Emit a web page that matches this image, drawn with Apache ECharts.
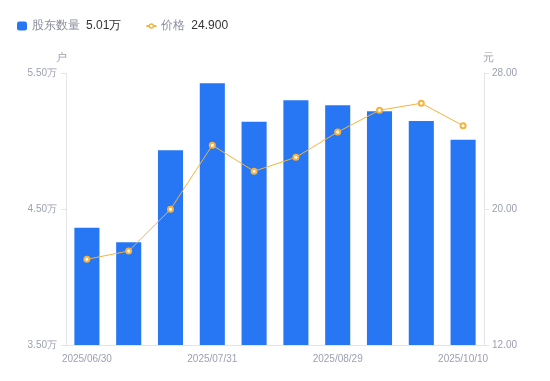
<!DOCTYPE html>
<html>
<head>
<meta charset="utf-8">
<script src="https://cdn.jsdelivr.net/npm/echarts@6/dist/echarts.min.js"></script>
<style>
  html, body { margin: 0; padding: 0; background: #fff; }
  #main { width: 550px; height: 381px; }
</style>
</head>
<body>
<div id="main"></div>
<script>
// 日期
const dates = ['2025/06/30', '2025/07/10', '2025/07/20', '2025/07/31', '2025/08/08',
               '2025/08/20', '2025/08/29', '2025/09/10', '2025/09/19', '2025/10/10'];
// 股东数量（户）
const holders = [43620, 42550, 49320, 54240, 51420, 52990, 52620, 52180, 51470, 50100];
// 价格（元）
const prices = [17.04, 17.53, 19.98, 23.75, 22.22, 23.04, 24.53, 25.81, 26.22, 24.90];

const gray = '#9b9fb0';
const lineGray = '#e3e5ea';

const fmtWan = v => (v / 10000).toFixed(2) + '万';

// legend icon for the line: short stubs + ring
const lineIcon = 'path://M0,2.5L3,2.5L3,4.5L0,4.5Z M8,2.5L11,2.5L11,4.5L8,4.5Z ' +
    'M8.5,3.5A3,3 0 1,1 2.5,3.5A3,3 0 1,1 8.5,3.5Z M7,3.5A1.5,1.5 0 1,0 4,3.5A1.5,1.5 0 1,0 7,3.5Z';

const chart = echarts.init(document.getElementById('main'));
chart.setOption({
    animation: false,
    color: ['#2777f5', '#f7b23b'],
    legend: {
        left: 12,
        top: 15,
        itemGap: 25,
        itemWidth: 10,
        itemHeight: 9,
        data: [
            { name: '股东数量', icon: 'roundRect' },
            { name: '价格', icon: lineIcon }
        ],
        formatter: function (name) {
            if (name === '股东数量') {
                return '{n|' + name + '}{v|' + fmtWan(holders[holders.length - 1]) + '}';
            }
            return '{n|' + name + '}{v|' + prices[prices.length - 1].toFixed(3) + '}';
        },
        textStyle: {
            rich: {
                n: { color: '#8a8d9c', fontSize: 12, padding: [0, 6, 0, 0] },
                v: { color: '#333', fontSize: 12 }
            }
        }
    },
    grid: { left: 66, right: 66, top: 73, bottom: 36 },
    xAxis: {
        type: 'category',
        data: dates,
        axisLine: { lineStyle: { color: lineGray } },
        axisTick: { show: false },
        axisLabel: { color: gray, fontSize: 10, interval: 2, margin: 9 }
    },
    yAxis: [
        {
            type: 'value',
            name: '户',
            nameTextStyle: { color: gray, fontSize: 11, padding: [0, 10, 0, 0] },
            nameGap: 10,
            min: 35000, max: 55000, interval: 10000,
            axisLine: { show: true, lineStyle: { color: lineGray } },
            axisTick: { show: true, length: 5, lineStyle: { color: lineGray } },
            splitLine: { show: false },
            axisLabel: { color: gray, fontSize: 10, margin: 9, formatter: fmtWan }
        },
        {
            type: 'value',
            name: '元',
            nameTextStyle: { color: gray, fontSize: 11, padding: [0, 0, 0, 8] },
            nameGap: 10,
            min: 12, max: 28, interval: 8,
            axisLine: { show: true, lineStyle: { color: lineGray } },
            axisTick: { show: true, length: 5, lineStyle: { color: lineGray } },
            splitLine: { show: false },
            axisLabel: { color: gray, fontSize: 10, margin: 8, formatter: v => v.toFixed(2) }
        }
    ],
    series: [
        {
            name: '股东数量',
            type: 'bar',
            yAxisIndex: 0,
            barWidth: '60%',
            data: holders
        },
        {
            name: '价格',
            type: 'line',
            yAxisIndex: 1,
            symbol: 'emptyCircle',
            symbolSize: 5,
            lineStyle: { width: 1 },
            itemStyle: { borderWidth: 1.5 },
            data: prices
        }
    ]
});
</script>
</body>
</html>
